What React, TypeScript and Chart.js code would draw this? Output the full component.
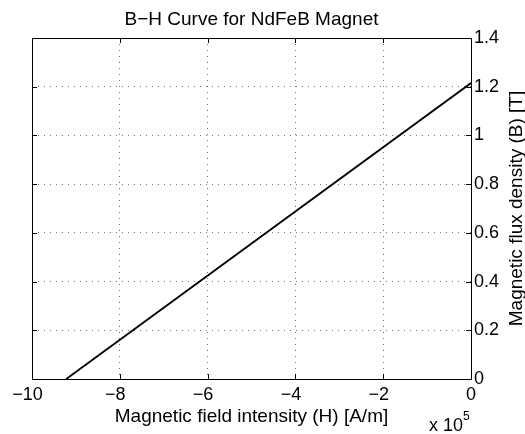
import React, { useEffect, useRef } from 'react';
import { Chart, registerables } from 'chart.js';
Chart.register(...registerables);

const TITLE = 'B\u2212H Curve for NdFeB Magnet';
const X_LABEL = 'Magnetic field intensity (H) [A/m]';
const Y_LABEL = 'Magnetic flux density (B) [T]';
const H_VALUES = [-922000, 0]; // A/m
const B_VALUES = [0, 1.215]; // T
const X_TICKS = [-10, -8, -6, -4, -2, 0]; // x 10^5
const Y_TICKS = [0, 0.2, 0.4, 0.6, 0.8, 1, 1.2, 1.4];
const X_EXPONENT = 5;

const FONT = 'Liberation Sans, Arial, Helvetica, sans-serif';

const fmtX = (v: number) => {
  const r = Math.round(v * 1000) / 1000;
  return r < 0 ? '\u2212' + Math.abs(r) + '\u2002' : String(r);
};

const decorPlugin = {
  id: 'decor',
  afterDraw(chart: any) {
    const { ctx, chartArea } = chart;
    const { left, right, top, bottom } = chartArea;
    const xs = chart.scales.x;
    const ys = chart.scales.y;
    ctx.save();
    ctx.strokeStyle = '#000';
    ctx.lineWidth = 1;
    const TL = 5;
    ctx.beginPath();
    X_TICKS.forEach((t) => {
      const px = Math.round(xs.getPixelForValue(t * Math.pow(10, X_EXPONENT))) + 0.5;
      ctx.moveTo(px, bottom);
      ctx.lineTo(px, bottom - TL);
      ctx.moveTo(px, top);
      ctx.lineTo(px, top + TL);
    });
    Y_TICKS.forEach((t) => {
      const py = Math.round(ys.getPixelForValue(t)) + 0.5;
      ctx.moveTo(left, py);
      ctx.lineTo(left + TL, py);
      ctx.moveTo(right, py);
      ctx.lineTo(right - TL, py);
    });
    ctx.stroke();
    ctx.beginPath();
    ctx.rect(Math.round(left) + 0.5, Math.round(top) + 0.5, Math.round(right - left), Math.round(bottom - top));
    ctx.stroke();

    ctx.fillStyle = '#000';
    ctx.font = `19px ${FONT}`;
    ctx.textAlign = 'center';
    ctx.textBaseline = 'alphabetic';
    ctx.fillText(TITLE, (left + right) / 2, 25);
    ctx.fillText(X_LABEL, (left + right) / 2, 422);

    ctx.save();
    ctx.translate(517, (top + bottom) / 2);
    ctx.rotate(-Math.PI / 2);
    ctx.textBaseline = 'middle';
    ctx.fillText(Y_LABEL, 0, 0);
    ctx.restore();

    ctx.textAlign = 'left';
    ctx.textBaseline = 'alphabetic';
    ctx.font = `18px ${FONT}`;
    ctx.fillText('x 10', 429, 431);
    ctx.font = `12px ${FONT}`;
    ctx.fillText(String(X_EXPONENT), 463, 420);
    ctx.restore();
  },
};

export default function App() {
  const ref = useRef<HTMLCanvasElement | null>(null);
  useEffect(() => {
    if (!ref.current) return;
    const chart = new Chart(ref.current, {
      type: 'line',
      data: {
        datasets: [
          {
            data: H_VALUES.map((h, i) => ({ x: h, y: B_VALUES[i] })),
            borderColor: '#000',
            borderWidth: 1.8,
            pointRadius: 0,
            fill: false,
            tension: 0,
          },
        ],
      },
      options: {
        animation: false,
        responsive: true,
        maintainAspectRatio: false,
        layout: { padding: { left: 32, top: 38, right: 0, bottom: 0 } },
        plugins: { legend: { display: false }, title: { display: false }, tooltip: { enabled: false } },
        scales: {
          x: {
            type: 'linear',
            position: 'bottom',
            min: X_TICKS[0] * Math.pow(10, X_EXPONENT),
            max: X_TICKS[X_TICKS.length - 1] * Math.pow(10, X_EXPONENT),
            afterBuildTicks: (scale: any) => {
              scale.ticks = X_TICKS.map((v) => ({ value: v * Math.pow(10, X_EXPONENT) }));
            },
            afterFit: (scale: any) => {
              scale.height = 55;
            },
            ticks: {
              color: '#000',
              padding: 5,
              maxRotation: 0,
              autoSkip: false,
              font: { family: FONT, size: 18 },
              callback: (v: any) => fmtX(Number(v) / Math.pow(10, X_EXPONENT)),
            },
            grid: { color: 'rgba(0,0,0,0.55)', drawTicks: false, lineWidth: 1 },
            border: { display: false, dash: [1, 5] },
          },
          y: {
            type: 'linear',
            position: 'right',
            min: Y_TICKS[0],
            max: Y_TICKS[Y_TICKS.length - 1],
            afterBuildTicks: (scale: any) => {
              scale.ticks = Y_TICKS.map((v) => ({ value: v }));
            },
            afterFit: (scale: any) => {
              scale.width = 54;
            },
            ticks: {
              color: '#000',
              padding: 3,
              autoSkip: false,
              font: { family: FONT, size: 18 },
              callback: (v: any) => String(Math.round(Number(v) * 100) / 100),
            },
            grid: { color: 'rgba(0,0,0,0.55)', drawTicks: false, lineWidth: 1 },
            border: { display: false, dash: [1, 5] },
          },
        },
      },
      plugins: [decorPlugin],
    } as any);
    return () => chart.destroy();
  }, []);
  return (
    <div style={{ position: 'absolute', left: 0, top: 0, width: 525, height: 434, background: '#fff' }}>
      <canvas ref={ref} />
    </div>
  );
}
